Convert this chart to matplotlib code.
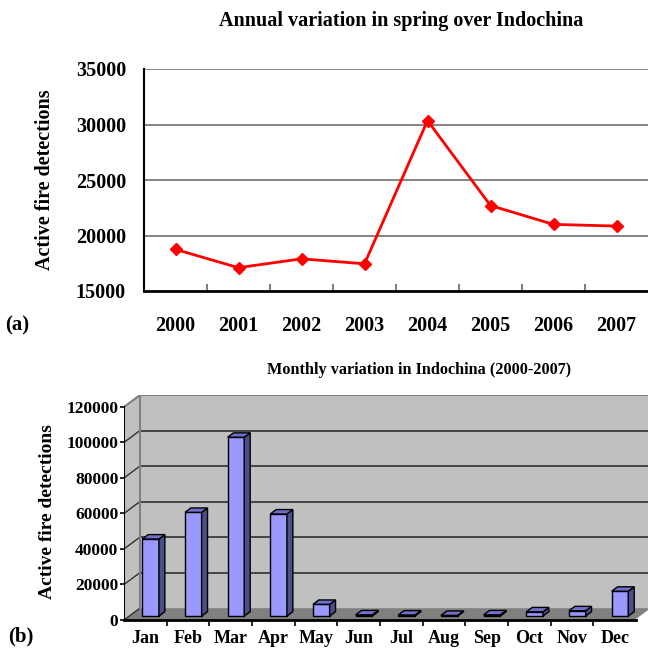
import matplotlib
matplotlib.use("Agg")
import matplotlib.pyplot as plt
from matplotlib.patches import Polygon
import numpy as np

plt.rcParams["font.family"] = ["Liberation Serif", "DejaVu Serif"]
plt.rcParams["font.weight"] = "bold"
plt.rcParams["axes.labelweight"] = "bold"

# (a) annual spring fire counts
years = ["2000", "2001", "2002", "2003", "2004", "2005", "2006", "2007"]
annual = [18750, 17100, 17900, 17450, 30350, 22700, 21000, 20850]

# (b) monthly totals 2000-2007
months = ["Jan", "Feb", "Mar", "Apr", "May", "Jun",
          "Jul", "Aug", "Sep", "Oct", "Nov", "Dec"]
monthly = [43400, 58400, 100700, 57500, 6600, 700,
           600, 400, 700, 2400, 3000, 14000]

W = 648.0
fig = plt.figure(figsize=(6.48, 6.48), dpi=100)


def px(x0, y0, x1, y1):
    # figure-pixel box -> axes rect
    return [x0 / W, 1 - y1 / W, (x1 - x0) / W, (y1 - y0) / W]


# ---------------- (a) line chart ----------------
ax1 = fig.add_axes(px(144, 69, 648, 291))
xs = np.arange(len(years)) + 0.5
ax1.plot(xs, annual, color="red", lw=2, marker="D", ms=6.5, zorder=5)
ax1.set_xlim(0, len(years))
ax1.set_ylim(15000, 35000)
ax1.set_yticks(np.arange(15000, 35001, 5000))
ax1.set_yticklabels([f"{v}" for v in range(15000, 35001, 5000)], fontsize=14.5)
ax1.tick_params(axis="y", length=0, pad=13)
ax1.set_xticks(xs)
ax1.set_xticklabels(years, fontsize=14.5)
ax1.tick_params(axis="x", which="major", length=0, pad=18)
ax1.set_xticks(np.arange(1, len(years)), minor=True)
ax1.tick_params(axis="x", which="minor", direction="in", length=5,
                color="#808080", width=1.5)
for v in range(20000, 35001, 5000):
    ax1.axhline(v, color="#707070", lw=1.2, zorder=1)
ax1.spines["right"].set_visible(False)
ax1.spines["top"].set_visible(False)
ax1.spines["left"].set_linewidth(1.5)
ax1.spines["bottom"].set_linewidth(2)
ax1.set_ylabel("Active fire detections", fontsize=14.5)
ax1.yaxis.set_label_coords((55 - 144) / 504, 0.5)

fig.text(401 / W, 1 - 21 / W, "Annual variation in spring over Indochina",
         ha="center", va="center", fontsize=14.5)
fig.text(5 / W, 1 - 325 / W, "(a)", ha="left", va="center", fontsize=15)

# ---------------- (b) pseudo-3D bar chart ----------------
n = len(months)
dx, dy = 0.375, 6700.0          # depth offset of the back wall
ax2 = fig.add_axes(px(124, 395, 124 + 12.4 * 42.67, 620))
ax2.set_xlim(0, 12.4)
ax2.set_ylim(0, 120000 + dy)
ymax = 120000

# walls and floor
ax2.add_patch(Polygon([(dx, dy), (n + dx, dy), (n + dx, ymax + dy), (dx, ymax + dy)],
                      closed=True, fc="#C0C0C0", ec="none", zorder=0))
ax2.add_patch(Polygon([(0, 0), (dx, dy), (dx, ymax + dy), (0, ymax)],
                      closed=True, fc="#C0C0C0", ec="none", zorder=0))
ax2.add_patch(Polygon([(0, 0), (n, 0), (n + dx, dy), (dx, dy)],
                      closed=True, fc="#808080", ec="none", zorder=1))
for v in range(20000, ymax, 20000):
    ax2.plot([dx, n + dx], [v + dy, v + dy], color="#303030", lw=1.2, zorder=1)
for v in range(0, ymax + 1, 20000):
    ax2.plot([0, dx], [v, v + dy], color="#303030", lw=1, zorder=2)
ax2.plot([dx, n + dx], [ymax + dy, ymax + dy], color="#808080", lw=1.5, zorder=2)
ax2.plot([dx, dx], [dy, ymax + dy], color="#808080", lw=1.5, zorder=2)
ax2.plot([0, dx], [ymax, ymax + dy], color="#808080", lw=1.2, zorder=2)
ax2.plot([n, n + dx], [0, dy], color="white", lw=1.2, zorder=2, clip_on=False)

# bars: front face via bar(), top and side faces from the same values
f0, f1 = 0.33, 0.70
bw = 0.39
xc = np.arange(n) + 0.5 + dx * f0
base = dy * f0
sdx, sdy = dx * (f1 - f0), dy * (f1 - f0)
ax2.bar(xc, monthly, width=bw, bottom=base, color="#9999FF",
        edgecolor="black", lw=1, zorder=4)
for x, v in zip(xc, monthly):
    x0, x1, top = x - bw / 2, x + bw / 2, base + v
    ax2.add_patch(Polygon([(x1, base), (x1 + sdx, base + sdy),
                           (x1 + sdx, top + sdy), (x1, top)],
                          closed=True, fc="#4D4D8A", ec="black", lw=1, zorder=4))
    ax2.add_patch(Polygon([(x0, top), (x1, top), (x1 + sdx, top + sdy),
                           (x0 + sdx, top + sdy)],
                          closed=True, fc="#7070CC", ec="black", lw=1, zorder=4))

for s in ax2.spines.values():
    s.set_visible(False)
ax2.plot([0, n], [0, 0], color="black", lw=2, zorder=5, clip_on=False)
ax2.plot([0, 0], [0, ymax], color="black", lw=1.5, zorder=5)
ax2.set_yticks(np.arange(0, ymax + 1, 20000))
ax2.set_yticklabels([f"{v}" for v in range(0, ymax + 1, 20000)], fontsize=12.5)
ax2.tick_params(axis="y", length=3, width=1.2, pad=1)
ax2.set_xticks(np.arange(n) + 0.5)
ax2.set_xticklabels(months, fontsize=13)
ax2.tick_params(axis="x", which="major", length=0, pad=7)
ax2.set_xticks(np.arange(1, n), minor=True)
ax2.tick_params(axis="x", which="minor", length=4, width=1.2, color="black")
ax2.set_ylabel("Active fire detections", fontsize=14)
ax2.yaxis.set_label_coords((56 - 124) / 529, 0.482)

fig.text(419 / W, 1 - 370 / W, "Monthly variation in Indochina (2000-2007)",
         ha="center", va="center", fontsize=11.7)
fig.text(8 / W, 1 - 636 / W, "(b)", ha="left", va="center", fontsize=15)

fig.savefig("out.png", dpi=100)
